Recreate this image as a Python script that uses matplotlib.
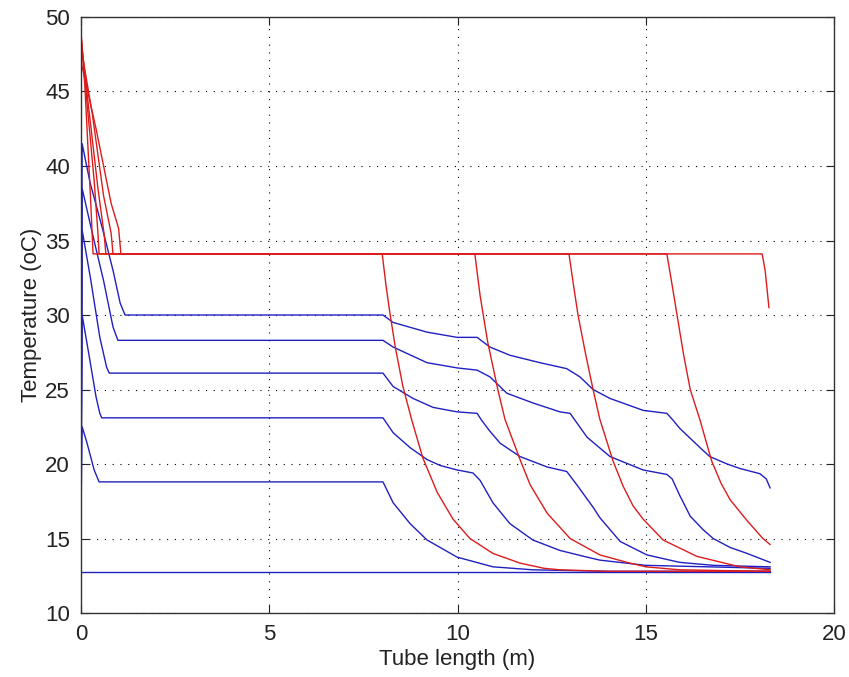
import numpy as np
import matplotlib
matplotlib.use("Agg")
import matplotlib.pyplot as plt

# Data (tube length in m, temperature in oC)
# hot side (red)
red1_x = [0, 0.4, 0.8, 1.0, 1.06, 8.0, 8.1, 8.2, 8.35, 8.55, 8.79, 9.08, 9.46, 9.88, 10.33, 10.94, 11.66, 12.3,
          12.72, 14.0, 18.3]
red1_t = [47.0, 42.5, 37.5, 35.8, 34.1, 34.1, 32.0, 30.2, 27.8, 25.2, 22.9, 20.4, 18.1, 16.3, 15.0, 14.0, 13.35, 13.0,
          12.9, 12.8, 12.8]
red2_x = [0, 0.3, 0.6, 0.8, 0.85, 10.46, 10.6, 10.8, 11.07, 11.26, 11.66, 11.93, 12.38, 12.99, 13.78, 14.5, 15.0,
          15.9, 17.0, 18.3]
red2_t = [48.0, 43.5, 38.0, 35.5, 34.1, 34.1, 31.3, 28.2, 25.0, 23.0, 20.3, 18.6, 16.7, 15.0, 13.9, 13.4, 13.1,
          12.9, 12.85, 12.8]
red3_x = [0, 0.2, 0.45, 0.62, 0.66, 12.96, 13.08, 13.2, 13.4, 13.6, 13.78, 14.13, 14.4, 14.66, 14.93, 15.46, 16.36,
          17.5, 18.3]
red3_t = [48.5, 44.0, 38.5, 35.3, 34.1, 34.1, 32.0, 30.0, 27.4, 25.0, 23.0, 20.2, 18.5, 17.2, 16.3, 14.9, 13.8,
          13.1, 12.9]
red4_x = [0, 0.15, 0.35, 0.45, 0.48, 15.56, 15.7, 15.83, 16.0, 16.18, 16.44, 16.75, 17.0, 17.24, 17.69, 18.11, 18.3]
red4_t = [48.9, 44.5, 39.0, 35.5, 34.1, 34.1, 32.0, 30.0, 27.4, 25.0, 22.95, 20.2, 18.7, 17.6, 16.2, 15.0, 14.6]
red5_x = [0, 0.1, 0.25, 0.32, 18.09, 18.17, 18.27]
red5_t = [48.9, 45.5, 38.0, 34.1, 34.1, 33.0, 30.5]

# cold side (blue)
blue0_x = [0, 18.3]
blue0_t = [12.75, 12.75]
blue1_x = [0, 0.03, 0.24, 0.58, 0.85, 1.04, 1.17, 8.02, 8.29, 9.19, 9.99, 10.52, 10.86, 11.39, 12.19, 12.9,
           13.25, 13.6, 14.05, 14.93, 15.56, 15.72, 15.9, 16.44, 16.7, 17.16, 17.5, 18.03, 18.2, 18.3]
blue1_t = [16.5, 41.5, 38.9, 35.7, 33.0, 30.8, 30.0, 30.0, 29.5, 28.85, 28.5, 28.5, 27.85, 27.3, 26.8, 26.4,
           25.85, 25.0, 24.4, 23.6, 23.4, 22.95, 22.4, 21.1, 20.5, 20.0, 19.7, 19.35, 19.0, 18.4]
blue2_x = [0, 0.03, 0.3, 0.6, 0.85, 0.98, 8.02, 8.29, 9.19, 9.99, 10.52, 10.86, 11.31, 12.0, 12.72, 12.99,
           13.44, 14.05, 14.93, 15.56, 15.7, 15.9, 16.18, 16.52, 16.79, 17.24, 17.69, 18.3]
blue2_t = [16.5, 38.5, 35.5, 32.3, 29.2, 28.3, 28.3, 27.85, 26.8, 26.45, 26.3, 25.85, 24.75, 24.1, 23.5, 23.4,
           21.8, 20.5, 19.6, 19.3, 19.0, 17.9, 16.5, 15.6, 15.0, 14.4, 14.0, 13.4]
blue3_x = [0, 0.03, 0.25, 0.5, 0.68, 0.75, 8.02, 8.29, 8.82, 9.35, 9.99, 10.52, 10.65, 10.86, 11.13, 11.66,
           12.38, 12.9, 13.17, 13.6, 13.78, 14.32, 15.03, 15.9, 16.79, 18.3]
blue3_t = [16.5, 35.7, 32.5, 28.5, 26.5, 26.1, 26.1, 25.2, 24.4, 23.8, 23.5, 23.4, 22.9, 22.2, 21.4, 20.5,
           19.8, 19.5, 18.6, 17.1, 16.4, 14.8, 13.9, 13.4, 13.2, 13.1]
blue4_x = [0, 0.03, 0.2, 0.4, 0.5, 0.55, 8.02, 8.29, 8.74, 9.19, 9.54, 9.99, 10.41, 10.6, 10.94, 11.39,
           12.0, 12.72, 13.44, 13.78, 15.0, 18.3]
blue4_t = [16.5, 30.0, 27.5, 24.5, 23.4, 23.1, 23.1, 22.1, 21.1, 20.3, 19.9, 19.6, 19.4, 18.9, 17.4, 16.0,
           14.9, 14.2, 13.75, 13.55, 13.2, 13.0]
blue5_x = [0, 0.03, 0.15, 0.35, 0.48, 8.02, 8.29, 8.74, 9.19, 9.99, 10.94, 12.0, 14.0, 18.3]
blue5_t = [16.5, 22.5, 21.5, 19.6, 18.8, 18.8, 17.4, 16.0, 14.9, 13.75, 13.1, 12.9, 12.8, 12.8]

x_ticks = [0, 5, 10, 15, 20]
y_ticks = [10, 15, 20, 25, 30, 35, 40, 45, 50]

plt.rcParams['font.family'] = ['Liberation Sans', 'DejaVu Sans']

fig = plt.figure(figsize=(8.49, 6.77), dpi=100)
ax = fig.add_axes([0.0954, 0.0945, 0.887, 0.8804])

blue = '#2020c0'
red = '#dc1c1c'
lw = 1.0
for bx, bt in [(blue0_x, blue0_t), (blue1_x, blue1_t), (blue2_x, blue2_t),
               (blue3_x, blue3_t), (blue4_x, blue4_t), (blue5_x, blue5_t)]:
    ax.plot(bx, bt, color=blue, lw=lw)
for rx, rt in [(red1_x, red1_t), (red2_x, red2_t), (red3_x, red3_t),
               (red4_x, red4_t), (red5_x, red5_t)]:
    ax.plot(rx, rt, color=red, lw=lw)

ax.set_xlim(0, 20)
ax.set_ylim(10, 50)
ax.set_xticks(x_ticks)
ax.set_yticks(y_ticks)
ax.grid(True, color='black', linestyle=(0, (1, 6)), linewidth=0.8)
ax.tick_params(direction='in', length=5.5, width=0.8, top=True, right=True,
               labelsize=16, pad=8, colors='#222222')
for s in ax.spines.values():
    s.set_linewidth(1.0)
    s.set_color('#333333')

ax.set_xlabel('Tube length (m)', fontsize=16, labelpad=3, color='#222222')
ax.set_ylabel('Temperature (oC)', fontsize=16, labelpad=2, color='#222222')

fig.savefig('out.png', dpi=100)
